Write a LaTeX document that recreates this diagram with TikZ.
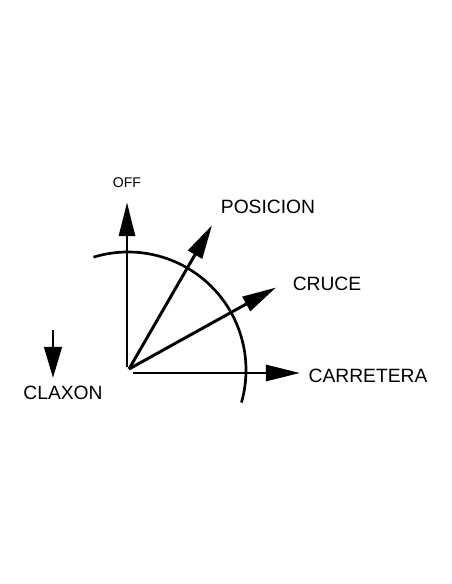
\documentclass[tikz,border=0pt]{standalone}
\usepackage{fontspec}
\setmainfont{Liberation Sans}
\usetikzlibrary{arrows.meta}
\tikzset{>={Triangle[length=8.5mm,width=4mm]}}
\tikzstyle{lever}=[->,line width=2.1pt]
\tikzstyle{lbl}=[font=\fontsize{13.7}{15}\selectfont,inner sep=0]

\begin{document}
\begin{tikzpicture}
  \useasboundingbox (-3.225,-5.375) rectangle (8.075,9.225);
  \def\R{2.95}
  \coordinate (O) at (0,0);
  \coordinate (H) at (0.1,-0.1);
  \coordinate (Toff) at (-0.05,4.17);
  \coordinate (Tpos) at (60:4.15);
  \coordinate (Tcru) at (29:4.2);
  \coordinate (Tcar) at (4.275,-0.1);
  \coordinate (Cs) at (-1.9,0.975);
  \coordinate (Ce) at (-1.9,-0.225);

  % dial
  \draw[line width=1.9pt] (-0.025,-0.025) ++(107:\R) arc[start angle=107, end angle=-16, radius=\R];

  % switch positions
  \draw[lever] (-0.05,0.05) -- (Toff);
  \draw[lever] (O) -- (Tpos);
  \draw[lever] (O) -- (Tcru);
  \draw[lever] (H) -- (Tcar);
  \draw[->,line width=2.1pt,>={Triangle[length=7.8mm,width=4.4mm]}] (Cs) -- (Ce);

  \node[font=\fontsize{10}{12}\selectfont] (off) at (-0.05,4.65) {OFF};
  \node[lbl] (pos) at (3.475,4.05) {POSICION};
  \node[lbl] (cru) at (4.95,2.125) {CRUCE};
  \node[lbl] (car) at (5.975,-0.175) {CARRETERA};
  \node[lbl] (cla) at (-1.65,-0.6) {CLAXON};
\end{tikzpicture}
\end{document}
